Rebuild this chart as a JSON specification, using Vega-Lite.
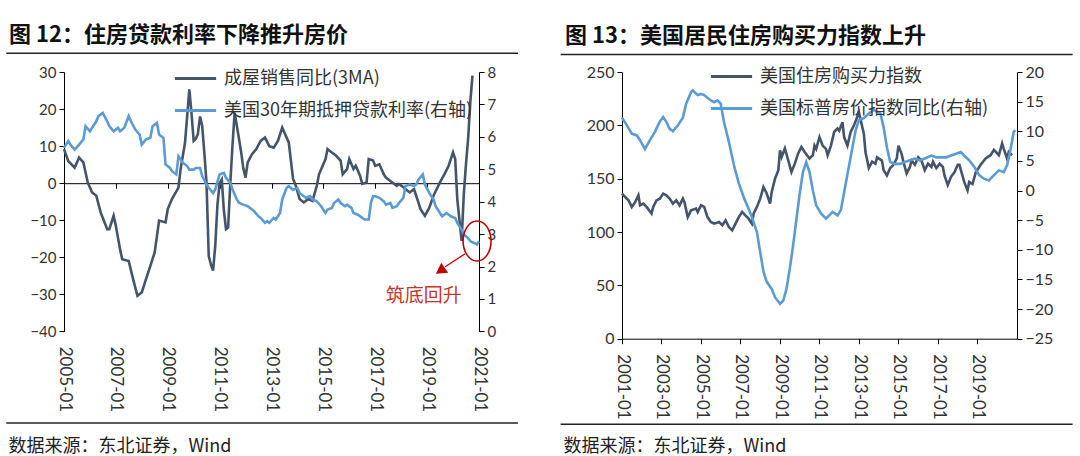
{
"$schema": "https://vega.github.io/schema/vega-lite/v6.json",
"background": "white",
"padding": {"left": 5, "top": 23, "right": 5, "bottom": 0},
"config": {"view": {"stroke": null}, "axis": {"labelFont": "Lato", "labelColor": "#333", "domainColor": "#000", "tickColor": "#000", "grid": false, "titleFont": "Noto Sans CJK SC", "labelOverlap": false}},
"spacing": 40,
"resolve": {"scale": {"color": "independent"}, "legend": {"color": "independent"}},
"datasets": {
"sales": [{"date":"2005-01","v":9.2},{"date":"2005-03","v":6.0},{"date":"2005-06","v":4.2},{"date":"2005-08","v":6.9},{"date":"2005-10","v":5.6},{"date":"2005-12","v":0.2},{"date":"2006-02","v":-2.5},{"date":"2006-04","v":-3.4},{"date":"2006-06","v":-7.9},{"date":"2006-09","v":-12.4},{"date":"2006-10","v":-12.4},{"date":"2006-12","v":-8.8},{"date":"2007-01","v":-11.5},{"date":"2007-03","v":-17.8},{"date":"2007-04","v":-20.5},{"date":"2007-07","v":-21.0},{"date":"2007-09","v":-25.9},{"date":"2007-11","v":-30.4},{"date":"2008-01","v":-29.5},{"date":"2008-03","v":-25.9},{"date":"2008-05","v":-22.3},{"date":"2008-07","v":-18.7},{"date":"2008-09","v":-10.1},{"date":"2008-12","v":-10.6},{"date":"2009-01","v":-7.0},{"date":"2009-03","v":-4.3},{"date":"2009-06","v":-1.2},{"date":"2009-07","v":3.8},{"date":"2009-09","v":10.9},{"date":"2009-11","v":25.3},{"date":"2009-12","v":19},{"date":"2010-01","v":11.4},{"date":"2010-02","v":12},{"date":"2010-03","v":13.3},{"date":"2010-04","v":18},{"date":"2010-05","v":15.5},{"date":"2010-06","v":8},{"date":"2010-07","v":0},{"date":"2010-08","v":-19.6},{"date":"2010-09","v":-22},{"date":"2010-10","v":-23.6},{"date":"2010-11","v":-16.9},{"date":"2010-12","v":-6},{"date":"2011-01","v":0},{"date":"2011-02","v":1},{"date":"2011-03","v":-7},{"date":"2011-04","v":-12.4},{"date":"2011-05","v":-12},{"date":"2011-06","v":0},{"date":"2011-07","v":10},{"date":"2011-08","v":19},{"date":"2011-09","v":15.5},{"date":"2011-10","v":12},{"date":"2011-11","v":8.3},{"date":"2011-12","v":4},{"date":"2012-01","v":1.5},{"date":"2012-02","v":5.6},{"date":"2012-04","v":7.8},{"date":"2012-06","v":9.2},{"date":"2012-08","v":11.4},{"date":"2012-10","v":12.3},{"date":"2012-12","v":10},{"date":"2013-02","v":9.6},{"date":"2013-04","v":11.4},{"date":"2013-06","v":15.0},{"date":"2013-09","v":11.0},{"date":"2013-11","v":1.1},{"date":"2013-12","v":-0.2},{"date":"2014-02","v":-4.3},{"date":"2014-04","v":-5.2},{"date":"2014-06","v":-4.3},{"date":"2014-08","v":-4.8},{"date":"2014-10","v":-0.7},{"date":"2014-11","v":2.4},{"date":"2015-02","v":6.5},{"date":"2015-03","v":9.2},{"date":"2015-05","v":8.3},{"date":"2015-07","v":7.4},{"date":"2015-09","v":6.1},{"date":"2015-10","v":2.4},{"date":"2015-12","v":3.8},{"date":"2016-01","v":6.5},{"date":"2016-03","v":3.8},{"date":"2016-04","v":4.7},{"date":"2016-06","v":2.0},{"date":"2016-07","v":-0.2},{"date":"2016-09","v":0.2},{"date":"2016-10","v":6.5},{"date":"2016-12","v":6.1},{"date":"2017-01","v":4.7},{"date":"2017-03","v":5.1},{"date":"2017-05","v":2.4},{"date":"2017-06","v":1.5},{"date":"2017-08","v":0.6},{"date":"2017-11","v":-0.7},{"date":"2017-12","v":-0.2},{"date":"2018-02","v":-1.1},{"date":"2018-03","v":-1.6},{"date":"2018-05","v":-2.5},{"date":"2018-07","v":-1.6},{"date":"2018-08","v":-3.4},{"date":"2018-10","v":-7.0},{"date":"2018-12","v":-8.8},{"date":"2019-02","v":-6.6},{"date":"2019-04","v":-3.4},{"date":"2019-07","v":0.2},{"date":"2019-09","v":2.4},{"date":"2019-11","v":4.7},{"date":"2020-01","v":8.3},{"date":"2020-02","v":6.5},{"date":"2020-03","v":-4.3},{"date":"2020-04","v":-10},{"date":"2020-05","v":-15.6},{"date":"2020-06","v":-3},{"date":"2020-07","v":5},{"date":"2020-08","v":12},{"date":"2020-09","v":22},{"date":"2020-10","v":29}],
"rate": [{"date":"2005-01","v":5.66},{"date":"2005-03","v":5.87},{"date":"2005-04","v":5.76},{"date":"2005-06","v":5.61},{"date":"2005-08","v":5.76},{"date":"2005-10","v":5.92},{"date":"2005-11","v":6.33},{"date":"2006-01","v":6.17},{"date":"2006-02","v":6.28},{"date":"2006-04","v":6.48},{"date":"2006-05","v":6.64},{"date":"2006-07","v":6.74},{"date":"2006-09","v":6.48},{"date":"2006-10","v":6.33},{"date":"2006-12","v":6.17},{"date":"2007-02","v":6.28},{"date":"2007-03","v":6.17},{"date":"2007-05","v":6.28},{"date":"2007-07","v":6.64},{"date":"2007-08","v":6.48},{"date":"2007-10","v":6.23},{"date":"2007-12","v":6.07},{"date":"2008-01","v":5.76},{"date":"2008-03","v":5.92},{"date":"2008-05","v":5.97},{"date":"2008-06","v":6.33},{"date":"2008-08","v":6.43},{"date":"2008-09","v":6.07},{"date":"2008-11","v":5.97},{"date":"2008-12","v":5.15},{"date":"2009-02","v":5.04},{"date":"2009-03","v":4.94},{"date":"2009-05","v":4.84},{"date":"2009-06","v":5.40},{"date":"2009-08","v":5.2},{"date":"2009-10","v":5.1},{"date":"2009-11","v":4.99},{"date":"2010-01","v":4.99},{"date":"2010-02","v":5.04},{"date":"2010-04","v":5.04},{"date":"2010-05","v":4.79},{"date":"2010-07","v":4.53},{"date":"2010-08","v":4.43},{"date":"2010-10","v":4.27},{"date":"2010-11","v":4.38},{"date":"2011-01","v":4.84},{"date":"2011-03","v":4.89},{"date":"2011-04","v":4.74},{"date":"2011-06","v":4.58},{"date":"2011-07","v":4.38},{"date":"2011-09","v":4.07},{"date":"2011-10","v":3.97},{"date":"2011-12","v":3.91},{"date":"2012-02","v":3.86},{"date":"2012-04","v":3.76},{"date":"2012-05","v":3.71},{"date":"2012-07","v":3.55},{"date":"2012-08","v":3.5},{"date":"2012-10","v":3.35},{"date":"2012-11","v":3.40},{"date":"2012-12","v":3.35},{"date":"2013-02","v":3.50},{"date":"2013-03","v":3.45},{"date":"2013-05","v":3.65},{"date":"2013-06","v":4.07},{"date":"2013-08","v":4.42},{"date":"2013-09","v":4.48},{"date":"2013-11","v":4.37},{"date":"2014-01","v":4.42},{"date":"2014-02","v":4.27},{"date":"2014-04","v":4.17},{"date":"2014-05","v":4.12},{"date":"2014-07","v":4.17},{"date":"2014-08","v":4.07},{"date":"2014-10","v":4.01},{"date":"2014-12","v":3.86},{"date":"2015-02","v":3.65},{"date":"2015-03","v":3.76},{"date":"2015-05","v":3.81},{"date":"2015-06","v":3.96},{"date":"2015-08","v":4.07},{"date":"2015-09","v":3.96},{"date":"2015-11","v":3.86},{"date":"2015-12","v":3.91},{"date":"2016-02","v":3.81},{"date":"2016-03","v":3.65},{"date":"2016-05","v":3.60},{"date":"2016-07","v":3.50},{"date":"2016-08","v":3.45},{"date":"2016-10","v":3.45},{"date":"2016-11","v":3.96},{"date":"2016-12","v":4.17},{"date":"2017-01","v":4.17},{"date":"2017-03","v":4.12},{"date":"2017-05","v":4.01},{"date":"2017-06","v":3.91},{"date":"2017-08","v":3.96},{"date":"2017-09","v":3.81},{"date":"2017-11","v":3.86},{"date":"2017-12","v":3.96},{"date":"2018-02","v":4.12},{"date":"2018-03","v":4.48},{"date":"2018-05","v":4.53},{"date":"2018-07","v":4.48},{"date":"2018-08","v":4.53},{"date":"2018-09","v":4.68},{"date":"2018-11","v":4.84},{"date":"2018-12","v":4.53},{"date":"2019-02","v":4.27},{"date":"2019-04","v":4.07},{"date":"2019-05","v":3.86},{"date":"2019-07","v":3.65},{"date":"2019-08","v":3.55},{"date":"2019-10","v":3.65},{"date":"2019-12","v":3.55},{"date":"2020-02","v":3.50},{"date":"2020-03","v":3.35},{"date":"2020-05","v":3.14},{"date":"2020-06","v":2.99},{"date":"2020-08","v":2.88},{"date":"2020-09","v":2.78},{"date":"2020-11","v":2.72},{"date":"2020-12","v":2.68},{"date":"2021-01","v":2.78}],
"afford": [{"date":"2001-01","v":136},{"date":"2001-03","v":132.8},{"date":"2001-05","v":129.7},{"date":"2001-07","v":123.5},{"date":"2001-09","v":128},{"date":"2001-11","v":134.4},{"date":"2001-12","v":125},{"date":"2002-02","v":126.6},{"date":"2002-04","v":123.5},{"date":"2002-07","v":117.3},{"date":"2002-08","v":123.5},{"date":"2002-10","v":129.7},{"date":"2002-12","v":131.3},{"date":"2003-02","v":136},{"date":"2003-04","v":134.4},{"date":"2003-06","v":131.3},{"date":"2003-08","v":126.6},{"date":"2003-10","v":129.7},{"date":"2003-12","v":125},{"date":"2004-02","v":131.3},{"date":"2004-03","v":128},{"date":"2004-05","v":114},{"date":"2004-07","v":120.3},{"date":"2004-10","v":122},{"date":"2004-11","v":118.8},{"date":"2005-01","v":125},{"date":"2005-03","v":123.5},{"date":"2005-05","v":114},{"date":"2005-07","v":109.4},{"date":"2005-09","v":107.8},{"date":"2005-12","v":109.4},{"date":"2006-02","v":106.3},{"date":"2006-04","v":111},{"date":"2006-06","v":104.7},{"date":"2006-08","v":101.6},{"date":"2006-10","v":107.8},{"date":"2006-12","v":114},{"date":"2007-02","v":118.8},{"date":"2007-04","v":115.6},{"date":"2007-06","v":112.5},{"date":"2007-08","v":107.8},{"date":"2007-09","v":117.3},{"date":"2007-11","v":123.5},{"date":"2008-01","v":131.3},{"date":"2008-03","v":142.2},{"date":"2008-05","v":136},{"date":"2008-07","v":126.6},{"date":"2008-08","v":137.5},{"date":"2008-10","v":150},{"date":"2008-12","v":157.9},{"date":"2009-01","v":176.6},{"date":"2009-02","v":170.4},{"date":"2009-04","v":178.3},{"date":"2009-06","v":167.4},{"date":"2009-08","v":156.3},{"date":"2009-10","v":164},{"date":"2009-12","v":173.4},{"date":"2010-02","v":179.7},{"date":"2010-04","v":175},{"date":"2010-07","v":168.9},{"date":"2010-09","v":172},{"date":"2010-10","v":181},{"date":"2010-11","v":178},{"date":"2011-01","v":189},{"date":"2011-03","v":181},{"date":"2011-05","v":178},{"date":"2011-06","v":172},{"date":"2011-08","v":181},{"date":"2011-10","v":194},{"date":"2011-12","v":197},{"date":"2012-01","v":195},{"date":"2012-03","v":203},{"date":"2012-04","v":189},{"date":"2012-06","v":181},{"date":"2012-08","v":194},{"date":"2012-10","v":200},{"date":"2012-12","v":208},{"date":"2013-01","v":212},{"date":"2013-04","v":192},{"date":"2013-05","v":175},{"date":"2013-07","v":160},{"date":"2013-09","v":166},{"date":"2013-11","v":164},{"date":"2013-12","v":170},{"date":"2014-03","v":167},{"date":"2014-04","v":158},{"date":"2014-06","v":153},{"date":"2014-08","v":160},{"date":"2014-10","v":163},{"date":"2014-12","v":169},{"date":"2015-01","v":181},{"date":"2015-03","v":173},{"date":"2015-04","v":166},{"date":"2015-06","v":155},{"date":"2015-08","v":161},{"date":"2015-09","v":167},{"date":"2015-11","v":163},{"date":"2016-01","v":170},{"date":"2016-03","v":167},{"date":"2016-05","v":158},{"date":"2016-07","v":164},{"date":"2016-09","v":161},{"date":"2016-10","v":166},{"date":"2016-12","v":160},{"date":"2017-02","v":164},{"date":"2017-04","v":161},{"date":"2017-05","v":153},{"date":"2017-07","v":144},{"date":"2017-09","v":152},{"date":"2017-11","v":156},{"date":"2018-01","v":163},{"date":"2018-02","v":163},{"date":"2018-05","v":147},{"date":"2018-07","v":139},{"date":"2018-08","v":147},{"date":"2018-10","v":145},{"date":"2018-12","v":156},{"date":"2019-03","v":163},{"date":"2019-06","v":169},{"date":"2019-09","v":172},{"date":"2019-11","v":177},{"date":"2020-02","v":172},{"date":"2020-04","v":183},{"date":"2020-05","v":178},{"date":"2020-07","v":169},{"date":"2020-08","v":175},{"date":"2020-10","v":172}],
"hpi": [{"date":"2001-01","v":12.3},{"date":"2001-04","v":11.0},{"date":"2001-07","v":9.6},{"date":"2001-10","v":9.3},{"date":"2001-12","v":8.5},{"date":"2002-03","v":7.0},{"date":"2002-06","v":8.5},{"date":"2002-09","v":9.9},{"date":"2002-12","v":11.6},{"date":"2003-02","v":12.4},{"date":"2003-04","v":11.6},{"date":"2003-06","v":10.4},{"date":"2003-08","v":10.0},{"date":"2003-11","v":11.0},{"date":"2004-02","v":12.3},{"date":"2004-04","v":14.65},{"date":"2004-07","v":16.6},{"date":"2004-08","v":16.9},{"date":"2004-11","v":16.1},{"date":"2005-01","v":16.3},{"date":"2005-03","v":16.1},{"date":"2005-07","v":15.2},{"date":"2005-09","v":14.9},{"date":"2005-11","v":15.2},{"date":"2006-01","v":14.65},{"date":"2006-03","v":11.6},{"date":"2006-06","v":8.2},{"date":"2006-09","v":4.3},{"date":"2006-12","v":1.2},{"date":"2007-03","v":-1.1},{"date":"2007-06","v":-3.1},{"date":"2007-08","v":-4.5},{"date":"2007-11","v":-7.0},{"date":"2008-01","v":-10.4},{"date":"2008-03","v":-13.7},{"date":"2008-05","v":-15.4},{"date":"2008-08","v":-16.6},{"date":"2008-10","v":-18.0},{"date":"2009-01","v":-19.1},{"date":"2009-03","v":-18.6},{"date":"2009-05","v":-16.6},{"date":"2009-07","v":-13.2},{"date":"2009-09","v":-9.2},{"date":"2009-11","v":-4.8},{"date":"2010-01","v":-0.5},{"date":"2010-03","v":3.1},{"date":"2010-05","v":4.8},{"date":"2010-07","v":3.1},{"date":"2010-09","v":0},{"date":"2010-11","v":-2.5},{"date":"2011-02","v":-3.9},{"date":"2011-05","v":-4.75},{"date":"2011-09","v":-3.6},{"date":"2011-12","v":-4.2},{"date":"2012-02","v":-3.3},{"date":"2012-05","v":1.2},{"date":"2012-08","v":5.7},{"date":"2012-11","v":10.2},{"date":"2013-01","v":11.9},{"date":"2013-04","v":12.2},{"date":"2013-07","v":13.0},{"date":"2013-10","v":13.6},{"date":"2014-02","v":13.0},{"date":"2014-04","v":10.7},{"date":"2014-06","v":7.3},{"date":"2014-08","v":4.8},{"date":"2014-11","v":4.5},{"date":"2015-02","v":4.5},{"date":"2015-05","v":4.8},{"date":"2015-08","v":5.1},{"date":"2015-11","v":5.4},{"date":"2016-02","v":5.1},{"date":"2016-05","v":5.4},{"date":"2016-09","v":5.9},{"date":"2016-12","v":5.6},{"date":"2017-03","v":5.6},{"date":"2017-06","v":5.6},{"date":"2017-09","v":5.9},{"date":"2017-12","v":6.2},{"date":"2018-03","v":6.5},{"date":"2018-05","v":5.9},{"date":"2018-08","v":5.1},{"date":"2018-11","v":4.0},{"date":"2019-02","v":2.6},{"date":"2019-05","v":2.0},{"date":"2019-08","v":1.7},{"date":"2019-11","v":2.6},{"date":"2020-02","v":3.4},{"date":"2020-05","v":3.1},{"date":"2020-07","v":4.25},{"date":"2020-09","v":6.8},{"date":"2020-11","v":9.9},{"date":"2020-12","v":10.2}]
},
"hconcat": [
{
"width": 415, "height": 259.4,
"title": {"text": "图 12：住房贷款利率下降推升房价", "anchor": "start", "frame": "group", "dx": -55, "fontSize": 22, "font": "Noto Sans CJK SC", "fontWeight": "bold", "color": "#111", "offset": 6},
"layer": [
 {"data": {"name": "sales"}, "mark": {"type": "line", "strokeWidth": 2.6},
  "encoding": {
   "x": {"field": "date", "type": "temporal", "scale": {"type": "utc", "domain": [{"year":2005,"month":1,"date":1,"utc":true},{"year":2021,"month":1,"date":1,"utc":true}]},
    "axis": {"orient": "bottom", "offset": -148.2, "values": [{"year":2005,"month":1,"date":1,"utc":true},{"year":2007,"month":1,"date":1,"utc":true},{"year":2009,"month":1,"date":1,"utc":true},{"year":2011,"month":1,"date":1,"utc":true},{"year":2013,"month":1,"date":1,"utc":true},{"year":2015,"month":1,"date":1,"utc":true},{"year":2017,"month":1,"date":1,"utc":true},{"year":2019,"month":1,"date":1,"utc":true},{"year":2021,"month":1,"date":1,"utc":true}],
     "format": "%Y-%m", "labelAngle": 90, "labelAlign": "left", "labelBaseline": "middle", "tickSize": 5, "labelPadding": 158, "labelFontSize": 17, "labelFlush": false, "labelBound": false, "labelOverlap": false,
     "title": "数据来源：东北证券，Wind", "titleX": -56, "titleY": 263, "titleAlign": "left", "titleAnchor": "start", "titleBaseline": "middle", "titleFontSize": 18, "titleFontWeight": "normal", "titleColor": "#222"}},
   "y": {"field": "v", "type": "quantitative", "scale": {"domain": [-40, 30]}, "axis": {"orient": "left", "values": [-40,-30,-20,-10,0,10,20,30], "tickSize": 5, "labelFontSize": 15, "labelPadding": 3, "title": null, "labelOverlap": false}},
   "color": {"datum": "成屋销售同比(3MA)", "scale": {"domain": ["成屋销售同比(3MA)", "美国30年期抵押贷款利率(右轴)"], "range": ["#44546A", "#5B9BD5"]},
    "legend": {"orient": "none", "legendX": 109, "legendY": -16, "title": null, "symbolType": "stroke", "symbolSize": 1700, "symbolStrokeWidth": 3, "labelFontSize": 18, "labelFont": "Noto Sans CJK SC", "labelColor": "#333", "labelOffset": 6, "rowPadding": -13, "labelLimit": 0}}}},
 {"data": {"name": "rate"}, "mark": {"type": "line", "strokeWidth": 2.6},
  "encoding": {
   "x": {"field": "date", "type": "temporal"},
   "y": {"field": "v", "type": "quantitative", "scale": {"domain": [0, 8]}, "axis": {"orient": "right", "values": [0,1,2,3,4,5,6,7,8], "tickSize": 5, "labelFontSize": 15, "labelPadding": 3, "title": null}},
   "color": {"datum": "美国30年期抵押贷款利率(右轴)"}}},
 {"layer": [
  {"data": {"values": [{}]}, "mark": {"type": "rule", "strokeWidth": 1.5, "color": "#222"},
   "encoding": {"x": {"datum": {"year":2002,"month":10,"date":11,"utc":true}, "type": "temporal"}, "x2": {"datum": {"year":2022,"month":7,"date":5,"utc":true}}, "y": {"datum": 35.05, "type": "quantitative", "scale": {"domain": [-40, 30]}, "axis": null}}},
  {"data": {"values": [{}]}, "mark": {"type": "rule", "strokeWidth": 1.5, "color": "#222"},
   "encoding": {"x": {"datum": {"year":2002,"month":10,"date":11,"utc":true}, "type": "temporal"}, "x2": {"datum": {"year":2022,"month":7,"date":5,"utc":true}}, "y": {"datum": -64.74, "type": "quantitative", "scale": {"domain": [-40, 30]}, "axis": null}}},
  {"data": {"values": [{}]}, "mark": {"type": "point", "filled": false, "shape": "M-0.7,0A0.7,1,0,1,1,0.7,0A0.7,1,0,1,1,-0.7,0Z", "size": 1600, "color": "#C00000", "strokeWidth": 1.6, "opacity": 1},
   "encoding": {"x": {"datum": {"year":2020,"month":12,"date":5,"utc":true}, "type": "temporal"}, "y": {"datum": -15.6, "type": "quantitative", "scale": {"domain": [-40, 30]}, "axis": null}}},
  {"data": {"values": [{}]}, "mark": {"type": "rule", "strokeWidth": 1.3, "color": "#C00000"},
   "encoding": {"x": {"datum": {"year":2020,"month":6,"date":21,"utc":true}, "type": "temporal"}, "x2": {"datum": {"year":2019,"month":9,"date":13,"utc":true}}, "y": {"datum": -19.03, "type": "quantitative", "scale": {"domain": [-40, 30]}, "axis": null}, "y2": {"datum": -22.54}}},
  {"data": {"values": [{}]}, "mark": {"type": "point", "filled": true, "shape": "triangle-left", "size": 150, "angle": -34, "color": "#C00000", "opacity": 1},
   "encoding": {"x": {"datum": {"year":2019,"month":7,"date":6,"utc":true}, "type": "temporal"}, "y": {"datum": -23.62, "type": "quantitative", "scale": {"domain": [-40, 30]}, "axis": null}}},
  {"data": {"values": [{}]}, "mark": {"type": "text", "text": "筑底回升", "font": "Noto Sans CJK SC", "fontSize": 19, "color": "#C0392B", "align": "center", "baseline": "middle"},
   "encoding": {"x": {"datum": {"year":2018,"month":11,"date":14,"utc":true}, "type": "temporal"}, "y": {"datum": -30.55, "type": "quantitative", "scale": {"domain": [-40, 30]}, "axis": null}}}
 ]}
],
"resolve": {"scale": {"y": "independent"}}
},
{
"width": 395, "height": 266.7,
"title": {"text": "图 13：美国居民住房购买力指数上升", "anchor": "start", "frame": "group", "dx": -57, "fontSize": 22, "font": "Noto Sans CJK SC", "fontWeight": "bold", "color": "#111", "offset": 6},
"layer": [
 {"data": {"name": "afford"}, "mark": {"type": "line", "strokeWidth": 2.6},
  "encoding": {
   "x": {"field": "date", "type": "temporal", "scale": {"type": "utc", "domain": [{"year":2001,"month":1,"date":1,"utc":true},{"year":2021,"month":1,"date":1,"utc":true}]},
    "axis": {"orient": "bottom", "values": [{"year":2001,"month":1,"date":1,"utc":true},{"year":2003,"month":1,"date":1,"utc":true},{"year":2005,"month":1,"date":1,"utc":true},{"year":2007,"month":1,"date":1,"utc":true},{"year":2009,"month":1,"date":1,"utc":true},{"year":2011,"month":1,"date":1,"utc":true},{"year":2013,"month":1,"date":1,"utc":true},{"year":2015,"month":1,"date":1,"utc":true},{"year":2017,"month":1,"date":1,"utc":true},{"year":2019,"month":1,"date":1,"utc":true}],
     "format": "%Y-%m", "labelAngle": 90, "labelAlign": "left", "labelBaseline": "middle", "tickSize": 5, "labelPadding": 10, "labelFontSize": 17, "labelFlush": false, "labelBound": false, "labelOverlap": false,
     "title": "数据来源：东北证券，Wind", "titleX": -59, "titleY": 108, "titleAlign": "left", "titleAnchor": "start", "titleBaseline": "middle", "titleFontSize": 18, "titleFontWeight": "normal", "titleColor": "#222"}},
   "y": {"field": "v", "type": "quantitative", "scale": {"domain": [0, 250]}, "axis": {"orient": "left", "values": [0,50,100,150,200,250], "tickSize": 5, "labelFontSize": 16, "labelPadding": 3, "title": null, "labelOverlap": false}},
   "color": {"datum": "美国住房购买力指数", "scale": {"domain": ["美国住房购买力指数", "美国标普房价指数同比(右轴)"], "range": ["#44546A", "#5B9BD5"]},
    "legend": {"orient": "none", "legendX": 87, "legendY": -18, "title": null, "symbolType": "stroke", "symbolSize": 1700, "symbolStrokeWidth": 3, "labelFontSize": 18, "labelFont": "Noto Sans CJK SC", "labelColor": "#333", "labelOffset": 6, "rowPadding": -10, "labelLimit": 0}}}},
 {"data": {"name": "hpi"}, "mark": {"type": "line", "strokeWidth": 2.6},
  "encoding": {
   "x": {"field": "date", "type": "temporal"},
   "y": {"field": "v", "type": "quantitative", "scale": {"domain": [-25, 20]}, "axis": {"orient": "right", "values": [-25,-20,-15,-10,-5,0,5,10,15,20], "tickSize": 5, "labelFontSize": 16, "labelPadding": 3, "title": null}},
   "color": {"datum": "美国标普房价指数同比(右轴)"}}},
 {"layer": [
  {"data": {"values": [{}]}, "mark": {"type": "rule", "strokeWidth": 1.5, "color": "#222"},
   "encoding": {"x": {"datum": {"year":1997,"month":11,"date":23,"utc":true}, "type": "temporal"}, "x2": {"datum": {"year":2023,"month":10,"date":26,"utc":true}}, "y": {"datum": 266.3, "type": "quantitative", "scale": {"domain": [0, 250]}, "axis": null}}},
  {"data": {"values": [{}]}, "mark": {"type": "rule", "strokeWidth": 1.5, "color": "#222"},
   "encoding": {"x": {"datum": {"year":1997,"month":11,"date":23,"utc":true}, "type": "temporal"}, "x2": {"datum": {"year":2023,"month":10,"date":26,"utc":true}}, "y": {"datum": -80.3, "type": "quantitative", "scale": {"domain": [0, 250]}, "axis": null}}}
 ]}
],
"resolve": {"scale": {"y": "independent"}}
}
]
}
